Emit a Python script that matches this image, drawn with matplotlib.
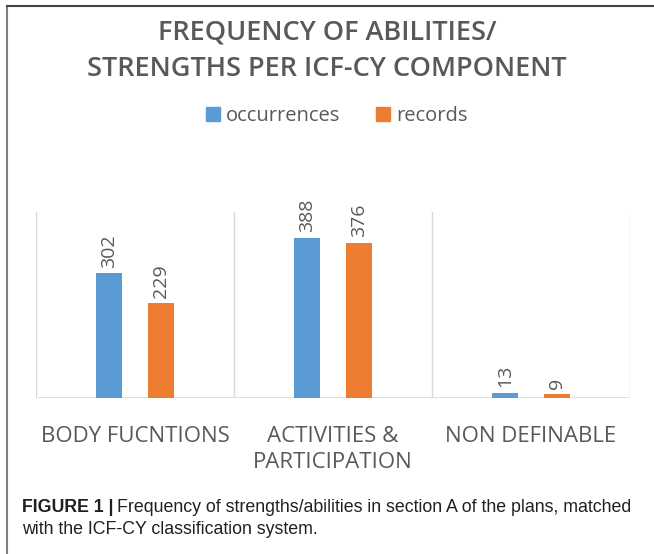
import matplotlib.pyplot as plt
from matplotlib.lines import Line2D
import numpy as np

categories = ["BODY FUCNTIONS", "ACTIVITIES &\nPARTICIPATION", "NON DEFINABLE"]
occurrences = [302, 388, 13]
records = [229, 376, 9]

blue = "#5B9BD5"
orange = "#ED7D31"
txt = "#595959"
grid = "#D9D9D9"

fig = plt.figure(figsize=(6.54, 5.54), dpi=100)
ax = fig.add_axes([36 / 654, 1 - 398 / 554, 594 / 654, 186 / 554])

x = np.arange(len(categories))
w = 0.131
b1 = ax.bar(x - w, occurrences, w, color=blue, zorder=3)
b2 = ax.bar(x + w, records, w, color=orange, zorder=3)

for bars in (b1, b2):
    for r in bars:
        ax.annotate(str(int(r.get_height())), (r.get_x() + r.get_width() / 2, r.get_height()),
                    xytext=(0, 4), textcoords="offset points", rotation=90,
                    ha="center", va="bottom", fontsize=14, color=txt, family="Open Sans")

ax.set_xlim(-0.5, 2.5)
ax.set_ylim(0, 450)
for v in [-0.5, 0.5, 1.5, 2.5]:
    ax.axvline(v, color=grid, lw=1, zorder=1)
ax.axhline(0, color=grid, lw=1.2, zorder=2)
for s in ax.spines.values():
    s.set_visible(False)
ax.set_yticks([])
ax.set_xticks(x)
ax.set_xticklabels(categories, fontsize=16, color=txt, family="Open Sans", linespacing=1.35)
ax.tick_params(axis="x", length=0, pad=20)

fig.text(0.5, 1 - 51 / 554, "FREQUENCY OF ABILITIES/\nSTRENGTHS PER ICF-CY COMPONENT",
         ha="center", va="center", fontsize=19.5, fontweight="semibold", color=txt,
         family="Open Sans", linespacing=1.4)

handles = [plt.Rectangle((0, 0), 1, 1, color=blue), plt.Rectangle((0, 0), 1, 1, color=orange)]
fig.legend(handles, ["occurrences", "records"], loc="center", bbox_to_anchor=(0.515, 1 - 116 / 554),
           ncol=2, frameon=False, handlelength=0.7, handleheight=0.7, handletextpad=0.3,
           columnspacing=1.8, prop={"family": "Open Sans", "size": 14.5}, labelcolor=txt)

cap_size = 12.8
cap_y1 = 1 - 507 / 554
t1 = fig.text(22 / 654, cap_y1, "FIGURE 1 |", ha="left", va="center", fontsize=cap_size,
              fontweight="bold", family="Liberation Sans", color="#231F20")
fig.canvas.draw()
bb = t1.get_window_extent()
fig.text((bb.x1 + 4) / fig.bbox.width, cap_y1,
         "Frequency of strengths/abilities in section A of the plans, matched",
         ha="left", va="center", fontsize=cap_size, family="Liberation Sans", color="#231F20")
fig.text(22 / 654, 1 - 530 / 554, "with the ICF-CY classification system.",
         ha="left", va="center", fontsize=cap_size, family="Liberation Sans", color="#231F20")

fig.add_artist(Line2D([7 / 654, 7 / 654], [0, 1 - 6 / 554], color="#7F7F7F", lw=1.5,
                      transform=fig.transFigure))
fig.add_artist(Line2D([7 / 654, 1], [1 - 6 / 554, 1 - 6 / 554], color="#444444", lw=1.5,
                      transform=fig.transFigure))

fig.savefig("out.png", dpi=100)
